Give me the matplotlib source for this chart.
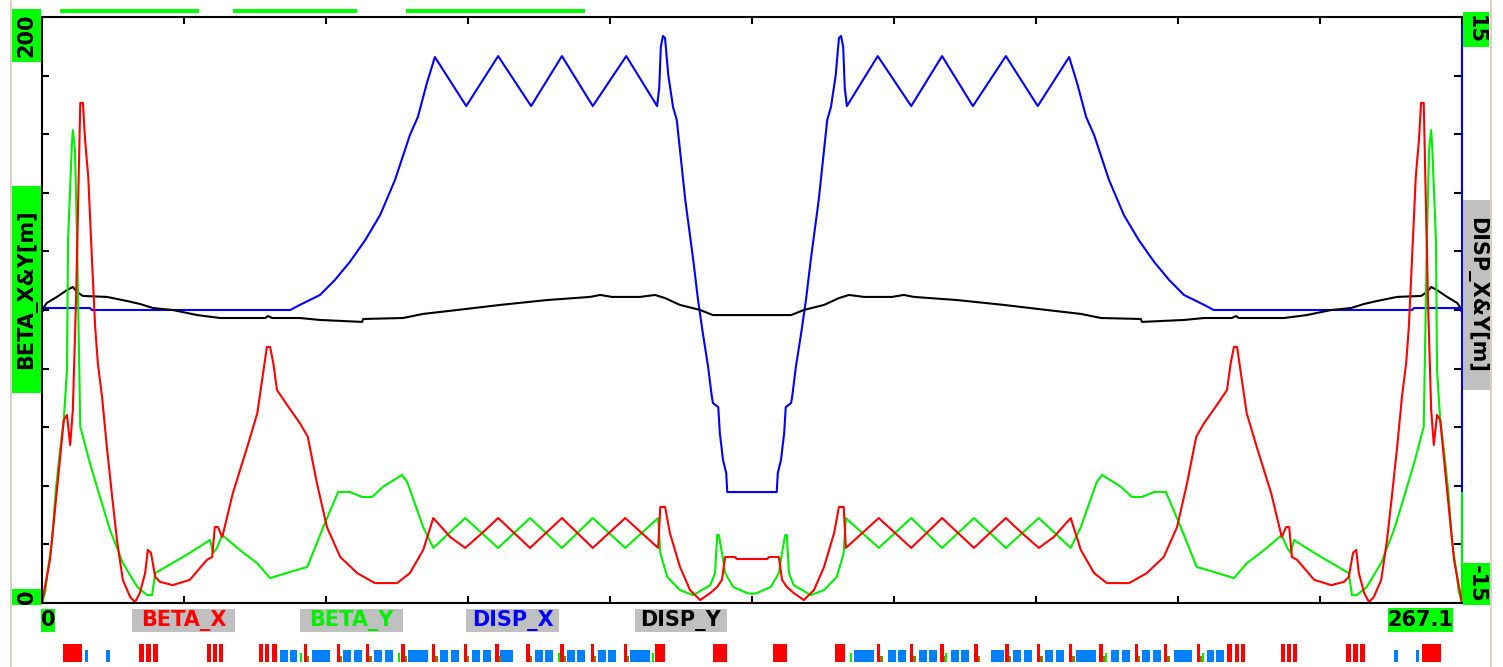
import numpy as np
import matplotlib.pyplot as plt
from matplotlib.patches import Rectangle

W, H = 1503, 667
S_END = 267.1

# ---- optics (s in m) ----
s_bx = [0.0, 1.5, 3.0, 4.1, 4.7, 5.3, 5.8, 6.4, 6.8, 7.2, 7.7, 8.1, 8.7, 9.0, 9.4, 10.0, 10.5, 11.3, 12.2, 13.2,
        14.1, 15.2, 16.6, 17.5, 18.4, 19.4, 19.9, 20.5, 21.3, 22.2, 24.6, 27.8, 31.0, 32.0, 32.5, 33.1, 33.9, 35.9,
        38.6, 40.5, 41.6, 42.3, 42.9, 43.5, 44.2, 46.1, 48.5, 50.0, 51.7, 53.6, 56.1, 59.3, 62.6, 66.8, 69.2, 71.7,
        73.6, 76.8, 79.6, 82.8, 85.8, 91.8, 97.8, 103.6, 109.7, 115.9, 116.3, 117.2, 118.1, 120.0, 121.9, 123.8,
        125.7, 127.0, 127.9, 128.5, 130.4, 130.7, 133.6,
        136.4, 136.7, 138.6, 139.2, 140.1, 141.4, 143.3, 145.2, 147.1, 149.0, 149.9, 150.8, 151.2, 157.4, 163.5,
        169.3, 175.3, 181.3, 184.3, 187.5, 190.3, 193.5, 195.4, 197.9, 200.3, 204.5, 207.8, 211.0, 213.5, 215.4,
        217.1, 218.6, 221.0, 222.9, 223.6, 224.2, 224.8, 225.5, 226.6, 228.5, 231.2, 233.2, 234.0, 234.6, 235.1,
        236.1, 239.3, 242.5, 244.9, 245.8, 246.6, 247.2, 247.7, 248.7, 249.6, 250.5, 251.9, 253.0, 253.9, 254.9,
        255.8, 256.6, 257.1, 257.7, 258.1, 258.4, 259.0, 259.4, 259.9, 260.3, 260.7, 261.3, 261.8, 262.4, 263.0,
        264.1, 265.6, 267.1]
beta_x = [0.0, 14.7, 42.0, 62.5, 64.2, 53.9, 65.9, 103.4, 137.5, 170.7, 170.7, 158.0, 145.4, 133.1, 117.1, 94.2,
          81.9, 70.3, 53.2, 36.2, 21.5, 7.9, 2.0, 0.3, 3.4, 10.2, 18.1, 17.1, 8.9, 7.2, 6.1, 7.9, 14.7, 15.7, 25.9,
          25.9, 22.5, 37.5, 53.2, 64.8, 78.5, 87.4, 87.4, 81.9, 72.7, 67.6, 61.4, 56.7, 41.0, 25.9, 15.7, 10.2,
          6.8, 6.8, 10.2, 18.1, 29.0, 22.5, 18.8, 23.9, 29.0, 18.8, 29.0, 18.8, 29.0, 18.8, 32.8, 32.8, 23.9, 12.3,
          4.4, 1.0, 3.4, 5.5, 7.9, 15.7, 15.7, 15.0, 15.0,
          15.0, 15.7, 15.7, 7.9, 5.5, 3.4, 1.0, 4.4, 12.3, 23.9, 32.8, 32.8, 18.8, 29.0, 18.8, 29.0, 18.8, 29.0,
          23.9, 18.8, 22.5, 29.0, 18.1, 10.2, 6.8, 6.8, 10.2, 15.7, 25.9, 41.0, 56.7, 61.4, 67.6, 72.7, 81.9, 87.4,
          87.4, 78.5, 64.8, 53.2, 37.5, 22.5, 25.9, 25.9, 15.7, 14.7, 7.9, 6.1, 7.2, 8.9, 17.1, 18.1, 10.2, 3.4,
          0.3, 2.0, 7.9, 21.5, 36.2, 53.2, 70.3, 81.9, 94.2, 117.1, 133.1, 145.4, 158.0, 170.7, 170.7, 137.5,
          103.4, 65.9, 53.9, 64.2, 62.5, 42.0, 14.7, 0.0]

s_by = [0.0, 0.6, 1.1, 1.9, 2.6, 3.4, 4.1, 4.7, 4.9, 5.6, 5.8, 6.2, 6.6, 7.2, 9.0, 10.9, 12.8, 15.2, 17.9, 19.8,
        20.7, 21.3, 24.6, 27.8, 31.0, 31.6, 32.2, 32.9, 33.9, 37.2, 40.4, 42.9, 46.7, 49.9, 52.9, 55.7, 57.9, 60.2,
        62.1, 64.1, 67.7, 68.7, 71.7, 73.6, 79.6, 85.8, 91.8, 97.8, 103.6, 109.7, 115.9, 116.3, 117.6, 120.0,
        122.5, 125.7, 126.6, 127.0, 127.3, 127.9, 128.5, 130.0, 132.6, 133.6,
        134.5, 137.1, 138.6, 139.2, 139.8, 140.1, 140.5, 141.4, 144.6, 147.1, 149.5, 150.8, 151.2, 157.4, 163.5,
        169.3, 175.3, 181.3, 187.5, 193.5, 195.4, 198.4, 199.4, 203.0, 205.0, 206.9, 209.2, 211.4, 214.2, 217.2,
        220.4, 224.2, 226.7, 229.9, 233.2, 234.2, 234.9, 235.5, 236.1, 239.3, 242.5, 245.8, 246.4, 247.3, 249.2,
        251.9, 254.3, 256.2, 258.1, 259.9, 260.5, 260.9, 261.3, 261.5, 262.2, 262.4, 263.0, 263.7, 264.5, 265.2,
        266.0, 266.5, 267.1, 267.1]
beta_y = [0.0, 3.8, 11.3, 21.5, 38.6, 52.2, 62.5, 79.5, 123.9, 155.6, 161.4, 154.6, 123.9, 60.1, 47.8, 36.2, 24.9,
          13.7, 5.5, 2.7, 2.7, 10.2, 13.7, 17.1, 20.8, 21.5, 17.1, 18.8, 23.2, 18.1, 13.7, 8.5, 10.6, 12.3, 25.9,
          37.9, 37.9, 36.2, 36.2, 39.6, 43.7, 41.3, 25.9, 18.8, 29.0, 18.8, 29.0, 18.8, 29.0, 18.8, 29.0, 17.1,
          8.9, 4.4, 2.7, 6.1, 10.2, 23.2, 23.2, 17.1, 10.2, 5.5, 3.4, 3.1,
          3.4, 5.5, 10.2, 17.1, 23.2, 23.2, 10.2, 6.1, 2.7, 4.4, 8.9, 17.1, 29.0, 18.8, 29.0, 18.8, 29.0, 18.8,
          29.0, 18.8, 25.9, 41.3, 43.7, 39.6, 36.2, 36.2, 37.9, 37.9, 25.9, 12.3, 10.6, 8.5, 13.7, 18.1, 23.2,
          18.8, 17.1, 21.5, 20.8, 17.1, 13.7, 10.2, 2.7, 2.7, 5.5, 13.7, 24.9, 36.2, 47.8, 60.1, 123.9, 154.6,
          161.4, 155.6, 123.9, 79.5, 62.5, 52.2, 38.6, 21.5, 11.3, 3.8, 0.0, 37.5]

s_dx = [0.0, 0.6, 9.0, 9.4, 46.7, 48.5, 52.3, 55.1, 57.9, 60.8, 63.6, 66.4, 69.2, 70.7, 72.4, 73.9, 79.8, 85.8,
        92.0, 97.8, 103.6, 109.9, 115.7, 116.1, 116.4, 116.8, 117.2, 117.8, 118.7, 119.4, 121.0, 122.5, 123.4,
        124.3, 125.3, 126.0, 126.2, 127.2, 127.5, 128.1, 128.7, 128.9, 133.6,
        138.2, 138.4, 139.0, 139.6, 139.9, 140.9, 141.1, 141.8, 142.8, 143.7, 144.6, 146.1, 147.7, 148.4, 149.3,
        149.9, 150.3, 150.7, 151.0, 151.4, 157.2, 163.5, 169.3, 175.1, 181.3, 187.3, 193.2, 194.7, 196.4, 197.9,
        200.7, 203.5, 206.3, 209.2, 212.0, 214.8, 218.6, 220.4, 257.7, 258.1, 266.5, 267.1]
disp_x = [-0.1, 0.1, 0.1, 0.0, 0.0, 0.26, 0.77, 1.54, 2.46, 3.58, 4.86, 6.66, 8.96, 9.88, 11.62, 12.95, 10.44,
          13.0, 10.44, 13.0, 10.44, 13.0, 10.44, 11.37, 13.47, 14.03, 13.92, 12.03, 10.39, 9.73, 5.63, 2.56, 0.51,
          -1.18, -2.92, -4.45, -4.76, -4.97, -6.30, -7.68, -8.35, -9.32, -9.32,
          -9.32, -8.35, -7.68, -6.30, -4.97, -4.76, -4.45, -2.92, -1.18, 0.51, 2.56, 5.63, 9.73, 10.39, 12.03,
          13.92, 14.03, 13.47, 11.37, 10.44, 13.0, 10.44, 13.0, 10.44, 13.0, 10.44, 12.95, 11.62, 9.88, 8.96,
          6.66, 4.86, 3.58, 2.46, 1.54, 0.77, 0.26, 0.0, 0.0, 0.1, 0.1, -0.1]

s_dy = [0.0, 0.9, 2.8, 4.7, 5.8, 6.6, 7.7, 12.2, 16.0, 18.4, 20.9, 24.6, 29.2, 33.5, 42.0, 42.5, 43.3, 48.5, 52.3,
        60.2, 60.4, 67.9, 71.7, 78.1, 84.3, 86.2, 95.0, 103.1, 105.0, 107.2, 112.5, 115.3, 117.2, 120.0, 123.8,
        126.2, 133.6,
        140.9, 143.3, 147.1, 149.9, 151.8, 154.6, 159.9, 162.1, 164.0, 172.1, 180.9, 182.8, 189.0, 195.4, 199.2,
        206.7, 206.9, 214.8, 218.6, 223.8, 224.6, 225.1, 233.6, 237.9, 242.5, 246.2, 248.7, 251.1, 254.9, 259.4,
        260.5, 261.3, 262.4, 264.3, 266.2, 267.1]
disp_y = [0.0, 0.36, 0.67, 1.02, 1.18, 0.92, 0.72, 0.67, 0.46, 0.31, 0.10, 0.0, -0.26, -0.41, -0.41, -0.31, -0.41,
          -0.41, -0.51, -0.61, -0.46, -0.41, -0.20, 0.0, 0.20, 0.26, 0.51, 0.67, 0.77, 0.67, 0.67, 0.77, 0.61,
          0.26, 0.0, -0.26, -0.26,
          -0.26, 0.0, 0.26, 0.61, 0.77, 0.67, 0.67, 0.77, 0.67, 0.51, 0.26, 0.20, 0.0, -0.20, -0.41, -0.46,
          -0.61, -0.51, -0.41, -0.41, -0.31, -0.41, -0.41, -0.26, 0.0, 0.10, 0.31, 0.46, 0.67, 0.72, 0.92, 1.18,
          1.02, 0.67, 0.36, 0.0]

# ---- lattice elements (start, length in m) ----
bend_start = [3.9, 18.2, 19.6, 20.9, 31.0, 32.2, 33.3, 40.8, 41.9, 43.3, 115.3, 126.2, 137.5, 149.2,
              222.9, 224.45, 225.55, 233.05, 234.15, 235.35, 245.3, 246.6, 248.0, 259.6]
bend_len = [3.6, 0.9, 0.9, 0.9, 0.75, 0.75, 0.75, 0.75, 0.75, 0.9, 1.9, 2.6, 2.6, 1.9,
            0.9, 0.75, 0.75, 0.75, 0.75, 0.75, 0.9, 0.9, 0.9, 3.6]
sext_start = [49.2, 55.4, 61.0, 67.6, 73.3, 79.3, 85.3, 91.1, 97.5, 103.2, 109.4,
              157.1, 163.3, 169.0, 175.4, 181.2, 187.2, 193.2, 198.9, 205.5, 211.1, 217.3]
quad_start = [8.1, 12.0, 44.8, 46.6, 50.8, 56.6, 58.7, 62.5, 64.5, 68.8, 74.9, 76.9, 80.9, 83.0, 86.2, 92.7,
              94.6, 98.8, 100.6, 104.6, 106.5, 110.6,
              152.7, 159.1, 161.0, 165.0, 166.8, 171.0, 172.9, 178.5, 182.6, 184.7, 188.7, 190.7, 194.5, 201.1,
              203.1, 206.9, 209.0, 212.9, 219.2, 220.8, 254.35, 258.4]
quad_len = [0.6, 0.75, 1.5, 1.3, 3.4, 1.5, 1.5, 1.5, 1.5, 3.8, 1.5, 1.5, 1.5, 1.5, 2.4, 1.5, 1.5, 1.5, 1.5, 1.5,
            1.5, 3.8,
            3.8, 1.5, 1.5, 1.5, 1.5, 1.5, 1.5, 2.4, 1.5, 1.5, 1.5, 1.5, 3.8, 1.5, 1.5, 1.5, 1.5, 3.4, 1.3, 1.5,
            0.75, 0.6]
corr_start = [48.6, 66.9, 97.0, 114.8, 152.0, 169.8, 199.9, 218.2]

legend_names = ['BETA_X', 'BETA_Y', 'DISP_X', 'DISP_Y']
legend_colors = ['#ff0000', '#00ee00', '#0000ff', '#000000']

GREEN = '#00ff00'
GRAY = '#c0c0c0'

fig = plt.figure(figsize=(W / 100, H / 100), dpi=100)


def rect(x0, y0, x1, y1, color):
    fig.patches.append(Rectangle((x0 / W, 1 - y1 / H), (x1 - x0) / W, (y1 - y0) / H,
                                 transform=fig.transFigure, facecolor=color, edgecolor='none'))


def label(x0, y0, x1, y1, text, color='black', bg=GREEN, rot=0, size=15):
    rect(x0, y0, x1, y1, bg)
    fig.text((x0 + x1) / 2 / W, 1 - (y0 + y1) / 2 / H, text, color=color, rotation=rot,
             ha='center', va='center', fontsize=size, fontweight='bold')


# window border and top markers
rect(10, 0, 12, H, '#d8d0c0')
rect(1490, 0, 1492, H, '#d8d0c0')
for x0, x1 in [(60, 199), (233, 357), (406, 585)]:
    rect(x0, 9, x1, 13, GREEN)

ax = fig.add_axes([42 / W, 1 - 603 / H, 1420 / W, 586 / H])
ax2 = ax.twinx()
ax.set_zorder(ax2.get_zorder() + 1)
ax.patch.set_visible(False)

ax2.plot(s_dx, disp_x, color='#0000ff', lw=1.5)
ax2.plot(s_dy, disp_y, color='black', lw=1.5)
ax.plot(s_by, beta_y, color='#00ee00', lw=1.5, clip_on=False)
ax.plot(s_bx, beta_x, color='#ff0000', lw=1.5)

ax.set_xlim(0, S_END)
ax.set_ylim(0, 200)
ax2.set_ylim(-15, 15)
ax.set_xticks(np.linspace(0, S_END, 11))
ax.set_yticks(np.arange(0, 201, 20))
ax2.set_yticks(np.linspace(-15, 15, 11))
ax.tick_params(direction='in', length=5, width=1.5, top=True, labelleft=False, labelbottom=False)
ax2.tick_params(direction='in', length=6, width=1.5, labelright=False)
for sp in ax.spines.values():
    sp.set_linewidth(1.5)
ax.spines['right'].set_visible(False)
for sp in ax2.spines.values():
    sp.set_visible(False)
ax2.spines['right'].set_visible(True)
ax2.spines['right'].set_color('#0000ff')
ax2.spines['right'].set_linewidth(1.5)

# element strip
axe = fig.add_axes([42 / W, 1 - 662 / H, 1420 / W, 18 / H])
axe.set_xlim(0, S_END)
axe.set_ylim(0, 1)
axe.axis('off')
axe.bar(quad_start, 0.65, width=quad_len, align='edge', color='#0080ff')
axe.bar(bend_start, 1.0, width=bend_len, align='edge', color='#ff0000')
axe.bar(sext_start, 1.0, width=0.6, align='edge', color='#ff0000')
axe.bar(np.array(sext_start) + 0.6, 0.35, width=0.5, align='edge', color='#808000')
axe.bar(corr_start, 0.5, width=0.35, align='edge', color='#00ee00')

# axis labels
label(12, 9, 41, 62, '200', rot=90)
label(12, 589, 41, 605, '0', rot=90)
label(12, 186, 41, 393, 'BETA_X&Y[m]', rot=90)
label(1463, 12, 1489, 47, '15', rot=270)
label(1463, 200, 1490, 390, 'DISP_X&Y[m]', bg=GRAY, rot=270)
label(1463, 563, 1490, 605, '-15', rot=270)
label(41, 609, 55, 632, '0')
label(1388, 608, 1453, 632, '267.1')
for name, col, (x0, x1) in zip(legend_names, legend_colors, [(132, 235), (300, 403), (466, 559), (635, 727)]):
    label(x0, 609, x1, 632, name, color=col, bg=GRAY)

fig.savefig('out.png', dpi=100)
plt.close(fig)
